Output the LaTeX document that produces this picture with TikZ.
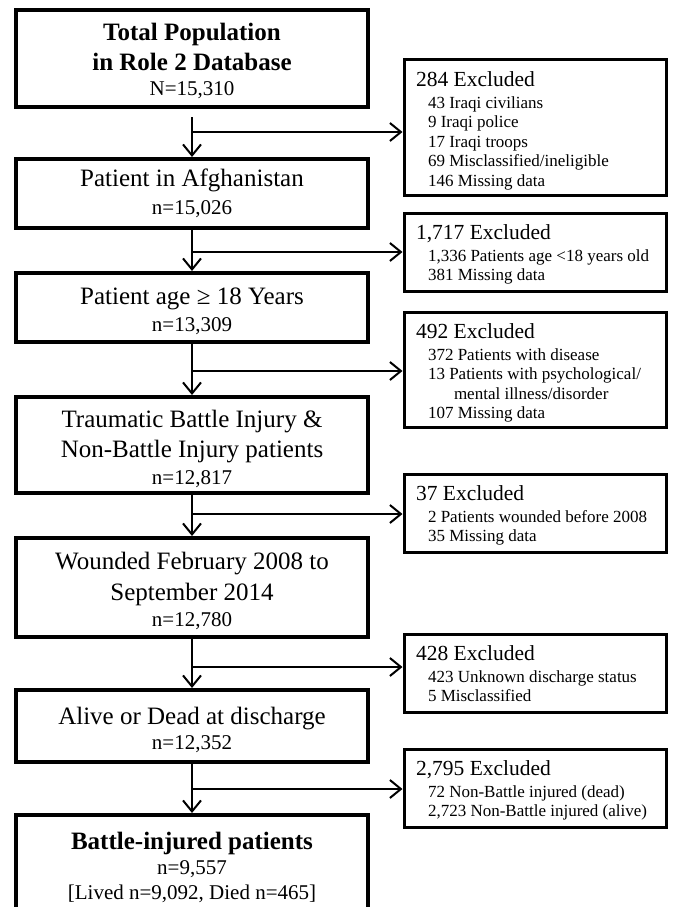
\documentclass[tikz,border=0pt]{standalone}
\usepackage{fontspec}
\setmainfont{Liberation Serif}
\usetikzlibrary{arrows.meta}
\hfuzz=300pt \hbadness=10000 \vbadness=10000 \vfuzz=300pt
\newcommand\nfont{\fontsize{21}{25}\selectfont}
\newcommand\hfont{\fontsize{21.5}{22}\selectfont}
\newcommand\ifont{\fontsize{17}{19.5}\selectfont}
\newcommand\rtext[2]{\parbox[c][#1][t]{238pt}{\vspace*{12pt}#2}}
\newcommand\hdr[1]{{\hfont\mbox{#1}\par}\vspace{2pt}}
\newcommand\itm[1]{{\ifont\mbox{\hspace*{12pt}#1}\par}}
\newcommand\itmb[1]{{\ifont\mbox{\hspace*{38pt}#1}\par}}
\newcommand\tstrut[1]{\rule{0pt}{#1}}
\tikzset{
  lbox/.style={draw, line width=4pt, minimum width=352pt, inner sep=0pt, align=center,
    font=\fontsize{25}{30}\selectfont},
  rbox/.style={draw, line width=3pt, minimum width=262pt, inner sep=0pt},
  flow/.style={line width=2pt, -{Straight Barb[length=11pt, width=18pt, line width=2pt]}},
}
\begin{document}
\begin{tikzpicture}[x=1pt, y=-1pt]
\useasboundingbox (0,0) rectangle (674,907);
\clip (0,0) rectangle (674,907);
\fill[white] (0,0) rectangle (674,907);

% left column
\node[lbox, minimum height=97pt] (L1) at (192,58.5)
  {\tstrut{23pt}\textbf{Total Population}\\\textbf{in Role 2 Database}\\[-5pt]{\nfont N=15,310}};
\node[lbox, minimum height=69pt] (L2) at (192,193.5)
  {Patient in Afghanistan\\[-2pt]{\nfont n=15,026}};
\node[lbox, minimum height=69pt] (L3) at (192,307.5)
  {\tstrut{25pt}Patient age ≥ 18 Years\\[-3pt]{\nfont n=13,309}};
\node[lbox, minimum height=96pt] (L4) at (192,445)
  {\tstrut{26pt}Traumatic Battle Injury \&\\Non-Battle Injury patients\\[-3pt]{\nfont n=12,817}};
\node[lbox, minimum height=99pt] (L5) at (192,587.5)
  {\tstrut{23.5pt}Wounded February 2008 to\\[1pt]September 2014\\[-4pt]{\nfont n=12,780}};
\node[lbox, minimum height=72pt] (L6) at (192,726)
  {\tstrut{25pt}Alive or Dead at discharge\\[-5pt]{\nfont n=12,352}};
\node[lbox, minimum height=104pt, font=\fontsize{25}{25}\selectfont] (L7) at (192,867)
  {\textbf{Battle-injured patients}\\{\nfont n=9,557}\\{\nfont [Lived n=9,092, Died n=465]}};

% right column
\node[rbox, minimum height=135pt] (R1) at (535,127.5) {\rtext{135pt}{%
  \hdr{284 Excluded}\itm{43 Iraqi civilians}\itm{9 Iraqi police}\itm{17 Iraqi troops}%
  \itm{69 Misclassified/ineligible}\itm{146 Missing data}}};
\node[rbox, minimum height=78pt] (R2) at (535,252) {\rtext{78pt}{%
  \hdr{1,717 Excluded}\itm{1,336 Patients age <18 years old}\itm{381 Missing data}}};
\node[rbox, minimum height=115pt] (R3) at (535,369.5) {\rtext{115pt}{%
  \hdr{492 Excluded}\itm{372 Patients with disease}\itm{13 Patients with psychological/}%
  \itmb{mental illness/disorder}\itm{107 Missing data}}};
\node[rbox, minimum height=78pt] (R4) at (535,513) {\rtext{78pt}{%
  \hdr{37 Excluded}\itm{2 Patients wounded before 2008}\itm{35 Missing data}}};
\node[rbox, minimum height=78pt] (R5) at (535,673) {\rtext{78pt}{%
  \hdr{428 Excluded}\itm{423 Unknown discharge status}\itm{5 Misclassified}}};
\node[rbox, minimum height=78pt] (R6) at (535,788) {\rtext{78pt}{%
  \hdr{2,795 Excluded}\itm{72 Non-Battle injured (dead)}\itm{2,723 Non-Battle injured (alive)}}};

% vertical flow
\draw[flow, shorten <=8pt] (L1.south) -- (L2.north);
\draw[flow] (L2.south) -- (L3.north);
\draw[flow] (L3.south) -- (L4.north);
\draw[flow] (L4.south) -- (L5.north);
\draw[flow] (L5.south) -- (L6.north);
\draw[flow] (L6.south) -- (L7.north);

% branches
\coordinate (b1) at (192,132);
\coordinate (b2) at (192,252);
\coordinate (b3) at (192,371);
\coordinate (b4) at (192,514);
\coordinate (b5) at (192,667);
\coordinate (b6) at (192,789);
\draw[flow] (b1) -- (b1 -| R1.west);
\draw[flow] (b2) -- (b2 -| R2.west);
\draw[flow] (b3) -- (b3 -| R3.west);
\draw[flow] (b4) -- (b4 -| R4.west);
\draw[flow] (b5) -- (b5 -| R5.west);
\draw[flow] (b6) -- (b6 -| R6.west);
\end{tikzpicture}
\end{document}
